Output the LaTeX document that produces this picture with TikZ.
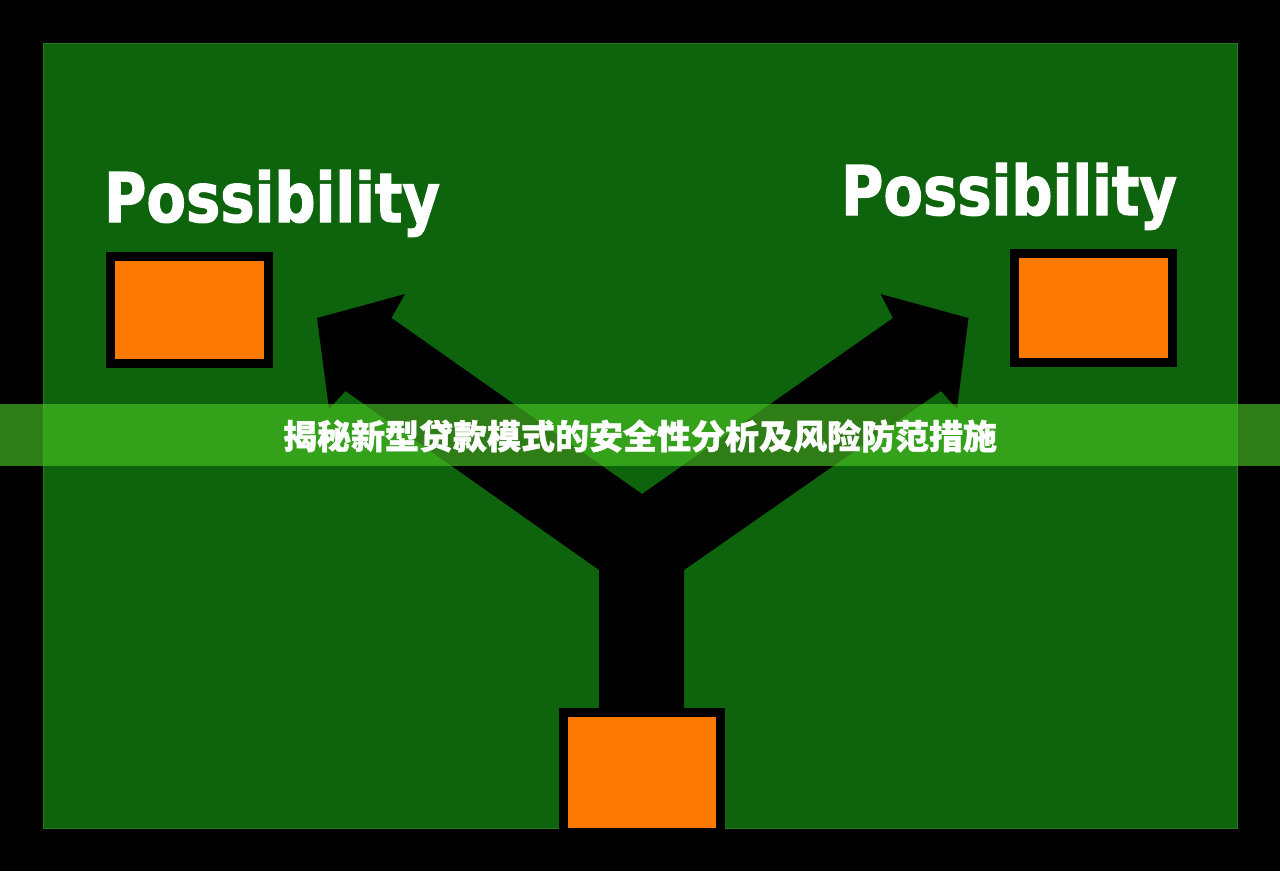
\documentclass[tikz,border=0pt]{standalone}
\usepackage{fontspec}
\usepackage{tikz}
\newfontfamily\wordfont[FakeStretch=0.84, BoldFeatures={FakeBold=1.5}]{DejaVu Sans}
\newfontfamily\cjk[BoldFeatures={FakeBold=1.2}]{Noto Sans CJK SC}
\definecolor{boardgreen}{RGB}{14,100,12}
\definecolor{edgegreen}{RGB}{40,120,36}
\definecolor{boxorange}{RGB}{252,122,2}
\definecolor{bandgreen}{RGB}{73,198,35}
\tikzset{
  optbox/.style={draw=black, line width=9pt, fill=boxorange, inner sep=0pt},
  possword/.style={anchor=base west, inner sep=0pt, text=white,
    font=\wordfont\bfseries\fontsize{68.6}{70}\selectfont},
  bandtext/.style={text=white, inner sep=0pt,
    font=\cjk\bfseries\fontsize{34}{36}\selectfont}
}

\begin{document}
\begin{tikzpicture}[x=1pt, y=-1pt]
\useasboundingbox (0,0) rectangle (1280,871);
\fill [black] (0,0) rectangle (1280,871);
\draw [edgegreen, fill=boardgreen, line width=1pt] (43,43) rectangle (1237,828);
% the forked arrow
\fill [black] (642,494) -- (893,318) -- (880.5,294) -- (968.5,318) -- (957,409)
  -- (941,391) -- (684,570) -- (684,712) -- (599,712) -- (599,570)
  -- (345.5,391) -- (329,409) -- (317,318) -- (405,294) -- (391.5,318) -- cycle;
% boxes
\node [optbox, minimum width=158pt, minimum height=107pt] (leftbox) at (189.5,310) {};
\node [optbox, minimum width=158pt, minimum height=109pt] (rightbox) at (1093.5,308) {};
\fill [black] (559,708) rectangle (725,871);
\fill [boxorange] (568,717) rectangle (716,828);
\node [possword] (leftword) at (104,222) {Possibility};
\node [possword] (rightword) at (841,215) {Possibility};
% banner
\fill [bandgreen, opacity=0.63] (0,404) rectangle (1280,466);
\node [bandtext] (title) at (640,436) {揭秘新型贷款模式的安全性分析及风险防范措施};
\end{tikzpicture}
\end{document}
